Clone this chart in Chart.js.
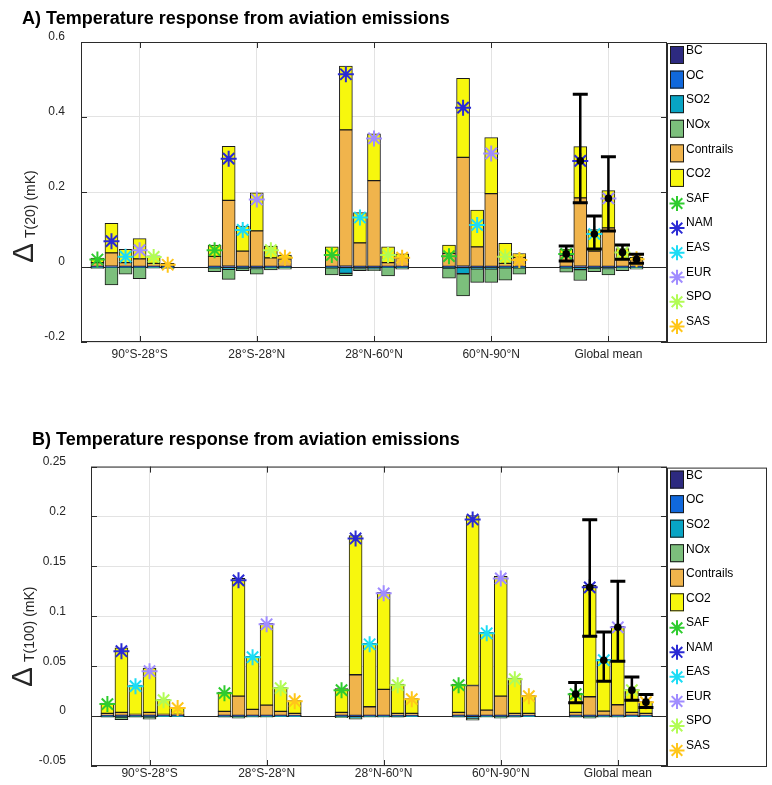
<!DOCTYPE html>
<html>
<head>
<meta charset="utf-8">
<title>Temperature response from aviation emissions</title>
<script src="https://cdn.jsdelivr.net/npm/chart.js@4.4.1/dist/chart.umd.min.js"></script>
<style>
  html, body { margin: 0; padding: 0; background: #fff; overflow: hidden; }
  #wrap { position: relative; width: 772px; height: 785px; }
  canvas { position: absolute; left: 0; }
  #chartA { top: 0; }
  #chartB { top: 390px; }
</style>
</head>
<body>
<div id="wrap">
  <canvas id="chartA" width="772" height="390"></canvas>
  <canvas id="chartB" width="772" height="395"></canvas>
</div>
<script>
const groups = ["90°S-28°S", "28°S-28°N", "28°N-60°N", "60°N-90°N", "Global mean"];
const sources = ["SAF", "NAM", "EAS", "EUR", "SPO", "SAS"];
const components = ["BC", "OC", "SO2", "NOx", "Contrails", "CO2"];

const compColors = ["#2d2a80", "#1068dc", "#08a4c4", "#7cbf7c", "#f0b44c", "#f7f70d"];
const starColors = ["#2ecc2e", "#2a2ad4", "#1cdcf5", "#a08cff", "#b2fc55", "#ffc61a"];

// ---- A) dT(20), mK. rows = latitude band, columns = source region (SAF..SAS)
const yTicksA = [-0.2, 0, 0.2, 0.4, 0.6];
const bcA = [
  [0.001, 0.002, 0.001, 0.001, 0.001, 0.001],
  [0.001, 0.002, 0.001, 0.001, 0.001, 0.001],
  [0.001, 0.002, 0.001, 0.001, 0.001, 0.001],
  [0.001, 0.002, 0.001, 0.001, 0.001, 0.001],
  [0.001, 0.002, 0.001, 0.001, 0.001, 0.001]
];
const ocA = [
  [0.0005, 0.0005, 0.0005, 0.0005, 0.0005, 0.0005],
  [0.0005, 0.0005, 0.0005, 0.0005, 0.0005, 0.0005],
  [0.0005, 0.0005, 0.0005, 0.0005, 0.0005, 0.0005],
  [0.0005, 0.0005, 0.0005, 0.0005, 0.0005, 0.0005],
  [0.0005, 0.0005, 0.0005, 0.0005, 0.0005, 0.0005]
];
const so2A = [
  [-0.001, -0.001, -0.001, -0.001, -0.0005, -0.001],
  [-0.002, -0.006, -0.003, -0.004, -0.001, -0.001],
  [-0.002, -0.017, -0.004, -0.005, -0.001, -0.002],
  [-0.003, -0.018, -0.005, -0.005, -0.002, -0.002],
  [-0.002, -0.007, -0.003, -0.004, -0.001, -0.001]
];
const noxA = [
  [-0.003, -0.047, -0.018, -0.030, -0.0025, -0.003],
  [-0.0105, -0.027, -0.007, -0.015, -0.007, -0.005],
  [-0.019, -0.006, -0.006, -0.005, -0.023, -0.004],
  [-0.027, -0.059, -0.036, -0.036, -0.033, -0.017],
  [-0.012, -0.029, -0.0095, -0.017, -0.009, -0.005]
];
const contrailsA = [
  [0.010, 0.035, 0.010, 0.020, 0.008, 0.003],
  [0.027, 0.175, 0.041, 0.095, 0.023, 0.020],
  [0.030, 0.363, 0.063, 0.229, 0.010, 0.022],
  [0.035, 0.290, 0.052, 0.194, 0.008, 0.024],
  [0.030, 0.182, 0.041, 0.103, 0.020, 0.018]
];
const co2A = [
  [0.0125, 0.079, 0.0355, 0.054, 0.0205, 0.0055],
  [0.0302, 0.1445, 0.0665, 0.1015, 0.0315, 0.0105],
  [0.0225, 0.1705, 0.0805, 0.1245, 0.0425, 0.0115],
  [0.0222, 0.2105, 0.0985, 0.1495, 0.0535, 0.0105],
  [0.0165, 0.1365, 0.0575, 0.099, 0.0275, 0.007]
];
const netA = [
  [0.020, 0.069, 0.0275, 0.045, 0.027, 0.006],
  [0.045, 0.289, 0.099, 0.180, 0.045, 0.025],
  [0.032, 0.514, 0.132, 0.343, 0.032, 0.025],
  [0.029, 0.425, 0.112, 0.303, 0.0275, 0.019],
  [0.035, 0.283, 0.088, 0.183, 0.039, 0.0205]
];
const errLowA = [0.016, 0.1715, 0.048, 0.096, 0.0205, 0.010];
const errHighA = [0.056, 0.461, 0.136, 0.294, 0.0587, 0.034];

// ---- B) dT(100), mK
const yTicksB = [-0.05, 0, 0.05, 0.1, 0.15, 0.2, 0.25];
const bcB = [
  [0.0005, 0.0005, 0.0005, 0.0005, 0.0005, 0.0005],
  [0.0005, 0.0005, 0.0005, 0.0005, 0.0005, 0.0005],
  [0.0005, 0.0005, 0.0005, 0.0005, 0.0005, 0.0005],
  [0.0005, 0.0005, 0.0005, 0.0005, 0.0005, 0.0005],
  [0.0005, 0.0005, 0.0005, 0.0005, 0.0005, 0.0005]
];
const ocB = [
  [0.0002, 0.0002, 0.0002, 0.0002, 0.0002, 0.0002],
  [0.0002, 0.0002, 0.0002, 0.0002, 0.0002, 0.0002],
  [0.0002, 0.0002, 0.0002, 0.0002, 0.0002, 0.0002],
  [0.0002, 0.0002, 0.0002, 0.0002, 0.0002, 0.0002],
  [0.0002, 0.0002, 0.0002, 0.0002, 0.0002, 0.0002]
];
const so2B = [
  [-0.0003, -0.001, -0.0003, -0.001, -0.0002, -0.0002],
  [-0.0003, -0.001, -0.0005, -0.0005, -0.0002, -0.0002],
  [-0.0005, -0.002, -0.0005, -0.0005, -0.0003, -0.0002],
  [-0.0003, -0.002, -0.0005, -0.001, -0.0003, -0.0002],
  [-0.0003, -0.001, -0.0005, -0.0005, -0.0002, -0.0002]
];
const noxB = [
  [-0.0007, -0.0025, -0.0007, -0.002, -0.0003, -0.0003],
  [-0.0007, -0.001, -0.0005, -0.0005, -0.0003, -0.0003],
  [-0.001, -0.001, -0.0005, -0.0005, -0.0007, -0.0003],
  [-0.0007, -0.002, -0.0005, -0.001, -0.0007, -0.0003],
  [-0.0007, -0.001, -0.0005, -0.0005, -0.0003, -0.0003]
];
const contrailsB = [
  [0.002, 0.003, 0.001, 0.003, 0.001, 0.001],
  [0.004, 0.0193, 0.006, 0.0103, 0.004, 0.002],
  [0.003, 0.0407, 0.0087, 0.026, 0.002, 0.002],
  [0.003, 0.030, 0.0053, 0.0193, 0.002, 0.002],
  [0.003, 0.0187, 0.0043, 0.0107, 0.003, 0.002]
];
const co2B = [
  [0.0103, 0.0648, 0.0293, 0.0443, 0.0148, 0.0068],
  [0.0193, 0.118, 0.0533, 0.082, 0.0238, 0.0128],
  [0.0238, 0.1396, 0.0636, 0.0973, 0.0293, 0.0148],
  [0.0283, 0.1703, 0.078, 0.12, 0.0353, 0.0178],
  [0.0193, 0.1116, 0.052, 0.0786, 0.0228, 0.0118]
];
const netB = [
  [0.012, 0.065, 0.030, 0.045, 0.016, 0.008],
  [0.023, 0.136, 0.059, 0.092, 0.028, 0.015],
  [0.026, 0.178, 0.072, 0.123, 0.031, 0.017],
  [0.031, 0.197, 0.083, 0.138, 0.037, 0.020],
  [0.022, 0.129, 0.056, 0.089, 0.026, 0.014]
];
const errLowB = [0.0133, 0.080, 0.035, 0.055, 0.016, 0.0087];
const errHighB = [0.0337, 0.1967, 0.0843, 0.135, 0.0393, 0.0217];

Chart.defaults.font.family = "'Liberation Sans', Arial, Helvetica, sans-serif";
Chart.defaults.color = '#262626';

const slot = 0.12; // distance between neighbouring bars of a group (category units)

function barPoints(rows) {
  const pts = [];
  rows.forEach((row, g) => {
    row.forEach((v, s) => pts.push({ x: g + 1 + (s - 3) * slot, y: v }));
  });
  return pts;
}

function starPoints(rows, s) {
  return rows.map((row, g) => ({ x: g + 1 + (s - 3) * slot, y: row[s] }));
}

function drawStar(ctx, x, y, r, color) {
  ctx.save();
  ctx.strokeStyle = color;
  ctx.lineWidth = 2;
  ctx.beginPath();
  for (let k = 0; k < 4; k++) {
    const a = k * Math.PI / 4;
    ctx.moveTo(x - r * Math.cos(a), y - r * Math.sin(a));
    ctx.lineTo(x + r * Math.cos(a), y + r * Math.sin(a));
  }
  ctx.stroke();
  ctx.restore();
}

// box around the axes with small inward ticks (matlab style)
const framePlugin = {
  id: 'frame',
  beforeDatasetsDraw(chart) {
    const { ctx, chartArea: a, scales: { x, y } } = chart;
    ctx.save();
    ctx.strokeStyle = '#2b2b2b';
    ctx.lineWidth = 1;
    ctx.strokeRect(a.left + 0.5, a.top + 0.5, a.right - a.left - 1, a.bottom - a.top - 1);
    ctx.beginPath();
    x.ticks.forEach(t => {
      const px = Math.round(x.getPixelForValue(t.value)) + 0.5;
      ctx.moveTo(px, a.top); ctx.lineTo(px, a.top + 6);
      ctx.moveTo(px, a.bottom); ctx.lineTo(px, a.bottom - 6);
    });
    y.ticks.forEach(t => {
      const py = Math.round(y.getPixelForValue(t.value)) + 0.5;
      ctx.moveTo(a.left, py); ctx.lineTo(a.left + 6, py);
      ctx.moveTo(a.right, py); ctx.lineTo(a.right - 6, py);
    });
    ctx.stroke();
    ctx.restore();
  }
};

function errorBarPlugin(low, high, net) {
  return {
    id: 'errbars',
    afterDatasetsDraw(chart) {
      const { ctx, scales: { x, y } } = chart;
      ctx.save();
      ctx.strokeStyle = '#000';
      ctx.fillStyle = '#000';
      sources.forEach((name, s) => {
        const px = x.getPixelForValue(5 + (s - 3) * slot);
        const yl = y.getPixelForValue(low[s]);
        const yh = y.getPixelForValue(high[s]);
        ctx.lineWidth = 2.5;
        ctx.beginPath();
        ctx.moveTo(px, yl); ctx.lineTo(px, yh);
        ctx.stroke();
        ctx.lineWidth = 3;
        ctx.beginPath();
        ctx.moveTo(px - 7.5, yl); ctx.lineTo(px + 7.5, yl);
        ctx.moveTo(px - 7.5, yh); ctx.lineTo(px + 7.5, yh);
        ctx.stroke();
        ctx.beginPath();
        ctx.arc(px, y.getPixelForValue(net[s]), 3.8, 0, Math.PI * 2);
        ctx.fill();
      });
      ctx.restore();
    }
  };
}

function yLabelPlugin(text, bx, by) {
  return {
    id: 'ylab',
    afterDraw(chart) {
      const ctx = chart.ctx;
      ctx.save();
      ctx.translate(bx, by);
      ctx.rotate(-Math.PI / 2);
      ctx.fillStyle = '#262626';
      ctx.textBaseline = 'alphabetic';
      ctx.textAlign = 'left';
      ctx.font = "30px 'Liberation Sans', Arial, sans-serif";
      ctx.fillText('Δ', 0, 0);
      const w = ctx.measureText('Δ').width;
      ctx.font = "14px 'Liberation Sans', Arial, sans-serif";
      ctx.fillText(text, w + 5, 2);
      ctx.restore();
    }
  };
}

const boxLegendPlugin = {
  id: 'boxlegend',
  afterDraw(chart) {
    const { ctx, chartArea: a } = chart;
    const left = a.right, top = a.top + 1, w = 99, h = a.bottom - a.top - 1;
    const items = chart.data.datasets;
    const step = (h - 4) / items.length;
    ctx.save();
    ctx.fillStyle = '#fff';
    ctx.fillRect(left, top, w, h);
    ctx.strokeStyle = '#2b2b2b';
    ctx.lineWidth = 1;
    ctx.strokeRect(left + 0.5, top + 0.5, w, h);
    items.forEach((ds, i) => {
      const yt = top + 3 + i * step;
      if (ds.type === 'scatter') {
        drawStar(ctx, left + 10, yt + 10, 7.5, ds.borderColor);
      } else {
        ctx.fillStyle = ds.backgroundColor;
        ctx.fillRect(left + 3, yt, 14, 18);
        ctx.strokeStyle = '#1a1a1a';
        ctx.strokeRect(left + 3.5, yt + 0.5, 13, 17);
      }
      ctx.fillStyle = '#000';
      ctx.font = "12px 'Liberation Sans', Arial, sans-serif";
      ctx.textBaseline = 'top';
      ctx.textAlign = 'left';
      ctx.fillText(ds.label, left + 19, yt - 1);
    });
    ctx.restore();
  }
};

function makeChart(id, p) {
  const datasets = [];
  p.parts.forEach((rows, i) => {
    datasets.push({
      type: 'bar',
      label: components[i],
      data: barPoints(rows),
      backgroundColor: compColors[i],
      borderColor: '#1a1a1a',
      borderWidth: 1,
      borderSkipped: false,
      barThickness: 13,
      order: 1
    });
  });
  sources.forEach((name, s) => {
    datasets.push({
      type: 'scatter',
      label: name,
      data: starPoints(p.net, s),
      stack: 'star' + s,
      pointStyle: 'star',
      pointRadius: 8,
      pointHoverRadius: 8,
      pointBorderWidth: 2,
      borderColor: starColors[s],
      backgroundColor: starColors[s],
      order: 0
    });
  });

  return new Chart(document.getElementById(id), {
    type: 'bar',
    data: { datasets },
    options: {
      responsive: false,
      animation: false,
      layout: { padding: p.pad },
      plugins: {
        legend: { display: false },
        tooltip: { enabled: false },
        title: {
          display: true,
          text: p.title,
          align: 'start',
          color: '#000',
          font: { size: 18, weight: 'bold' },
          padding: { top: 0, bottom: p.titleGap }
        }
      },
      scales: {
        x: {
          type: 'linear',
          min: 0.5,
          max: p.xMax,
          stacked: true,
          offset: false,
          afterBuildTicks: s => { s.ticks = groups.map((g, i) => ({ value: i + 1 })); },
          afterFit: s => { s.height = p.xHeight; },
          ticks: {
            callback: v => groups[v - 1],
            font: { size: 12 },
            color: '#262626',
            padding: p.xPad,
            maxRotation: 0,
            autoSkip: false
          },
          grid: { color: '#e3e3e3', drawTicks: false, offset: false },
          border: { display: false }
        },
        y: {
          min: p.yTicks[0],
          max: p.yTicks[p.yTicks.length - 1],
          stacked: true,
          afterBuildTicks: s => { s.ticks = p.yTicks.map(v => ({ value: v })); },
          afterFit: s => {
            s.width = 59;
            s.paddingTop = 0;
            s.paddingBottom = 0;
          },
          ticks: {
            callback: v => String(v),
            font: { size: 12 },
            color: '#262626',
            padding: p.yPad,
            labelOffset: -5
          },
          grid: {
            color: c => (c.tick && c.tick.value === 0 ? '#262626' : '#e3e3e3'),
            drawTicks: false
          },
          border: { display: false }
        }
      }
    },
    plugins: [framePlugin, errorBarPlugin(p.errLow, p.errHigh, p.net[4]), yLabelPlugin(p.ylabel, p.ylabX, p.ylabY), boxLegendPlugin]
  });
}

makeChart('chartA', {
  title: 'A) Temperature response from aviation emissions',
  parts: [bcA, ocA, so2A, noxA, contrailsA, co2A],
  net: netA, errLow: errLowA, errHigh: errHighA,
  yTicks: yTicksA, xMax: 5.5,
  pad: { top: 8, left: 22, right: 105, bottom: 18 },
  titleGap: 12.4, xHeight: 30, xPad: 5, yPad: 16,
  ylabel: 'T(20) (mK)', ylabX: 33, ylabY: 263
});

makeChart('chartB', {
  title: 'B) Temperature response from aviation emissions',
  parts: [bcB, ocB, so2B, noxB, contrailsB, co2B],
  net: netB, errLow: errLowB, errHigh: errHighB,
  yTicks: yTicksB, xMax: 5.42,
  pad: { top: 39, left: 32, right: 105, bottom: 0 },
  titleGap: 16, xHeight: 19, xPad: 0, yPad: 25,
  ylabel: 'T(100) (mK)', ylabX: 32, ylabY: 297
});
</script>
</body>
</html>
